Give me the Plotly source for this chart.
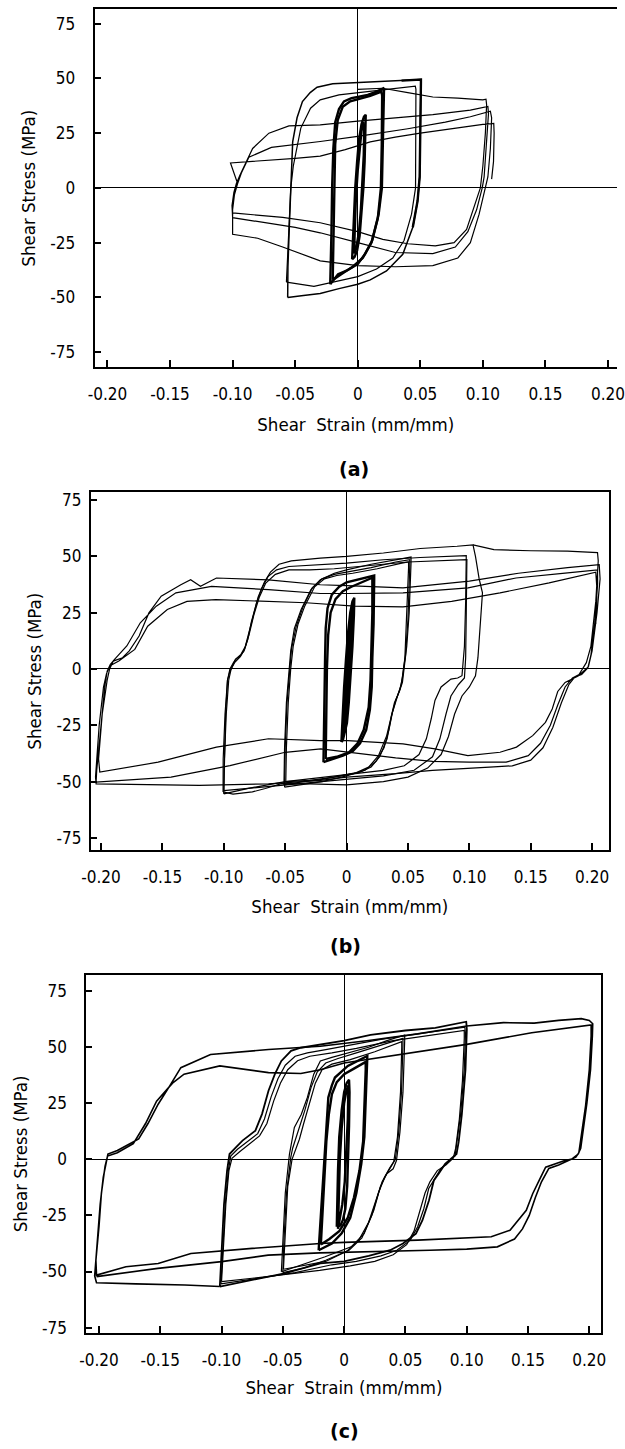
import plotly.graph_objects as go

W, H = 625, 1449
FONT = "DejaVu Sans Condensed, Liberation Sans Narrow, Arial Narrow, sans-serif"

# ---------------- tick definitions ----------------
X_TICKS = [-0.20, -0.15, -0.10, -0.05, 0, 0.05, 0.10, 0.15, 0.20]
X_TICK_LABELS = ["-0.20", "-0.15", "-0.10", "-0.05", "0", "0.05", "0.10", "0.15", "0.20"]
Y_TICKS = [75, 50, 25, 0, -25, -50, -75]
Y_TICK_LABELS = ["75", "50", "25", "0", "-25", "-50", "-75"]
X_TITLE = "Shear\u00a0 Strain (mm/mm)"
Y_TITLE = "Shear Stress (MPa)"
CAPTIONS = ["(a)", "(b)", "(c)"]

# ---------------- panel (a) data ----------------
A_TINY1_X = [-0.0045, -0.004, -0.003, -0.002, -0.0005, 0.001, 0.003, 0.005, 0.0064, 0.0062, 0.0055, 0.0045, 0.003, 0.0015, -0.0005, -0.0025, -0.0045]
A_TINY1_Y = [-32.6, -25, -12, 0, 12, 22, 29, 32.5, 33.4, 25, 12, 0, -12, -22, -28.5, -31.5, -32.6]
A_TINY2_X = [-0.003, -0.0025, -0.0015, 0.0, 0.0015, 0.003, 0.0045, 0.0052, 0.0048, 0.0038, 0.0025, 0.001, -0.001, -0.003]
A_TINY2_Y = [-30, -18, -5, 8, 18, 26, 30, 28, 15, 2, -10, -20, -27, -30]

A_L2A_X = [-0.022, -0.0215, -0.021, -0.0205, -0.0195, -0.018, -0.015, -0.011, -0.005, 0.0, 0.008, 0.015, 0.0205, 0.021, 0.0205, 0.020, 0.0193, 0.0167, 0.0115, 0.006, 0.0, -0.008, -0.0157, -0.022]
A_L2A_Y = [-44, -35, -20, 0, 18, 30, 36, 39.5, 41, 41.5, 42.5, 44, 45.5, 45, 30, 12, 0, -12, -24, -30, -34.8, -37.5, -39.4, -44]
A_L2B_X = [-0.020, -0.0195, -0.019, -0.018, -0.016, -0.012, -0.006, 0.0, 0.01, 0.019, 0.0195, 0.0192, 0.0185, 0.016, 0.011, 0.004, -0.004, -0.012, -0.020]
A_L2B_Y = [-42, -20, 0, 20, 31, 37, 39.5, 40.5, 42, 44, 42, 20, 0, -14, -25, -32, -36, -39, -42]

A_L3A_X = [-0.056, -0.0558, -0.0545, -0.0533, -0.052, -0.0485, -0.0442, -0.038, -0.0325, -0.02, 0.0, 0.02, 0.035, 0.0505, 0.0505, 0.050, 0.0495, 0.0478, 0.044, 0.036, 0.023, 0.01, 0.0, -0.015, -0.03, -0.045, -0.056]
A_L3A_Y = [-50, -36, -15, 0, 21, 32, 39.4, 43.5, 46, 47.5, 48, 48.5, 49, 49.5, 48, 25, 5, -6, -18, -30.3, -37.9, -42, -44, -46, -48.2, -49.2, -50]
A_L3B_X = [-0.057, -0.0565, -0.055, -0.0535, -0.0515, -0.0455, -0.0377, -0.030, -0.015, 0.0, 0.02, 0.046, 0.0465, 0.0465, 0.0462, 0.043, 0.037, 0.028, 0.015, 0.0, -0.02, -0.035, -0.057]
A_L3B_Y = [-43, -36.4, -15, 0, 10, 27.3, 36.4, 40.2, 42.5, 43.5, 44.5, 46.5, 45, 20, 0, -12, -24, -32, -37, -40.5, -43, -45, -43]
# bold right-hand reversal of the 0.05 loop
A_L3R_X = [0.035, 0.0505, 0.0505, 0.050, 0.0495, 0.0478, 0.044]
A_L3R_Y = [49, 49.5, 48, 25, 5, -6, -18]

A_T1_X = [0.0, 0.02, 0.04, 0.06, 0.08, 0.1, 0.1025]
A_T1_Y = [45, 45.5, 43.5, 41.5, 41, 40.2, 40.5]
A_D1_X = [0.103, 0.102, 0.1, 0.098, 0.093, 0.087, 0.077, 0.062, 0.04, 0.02, 0.0, -0.03, -0.06, -0.1]
A_D1_Y = [38, 25, 10, 0, -9, -19, -25, -26.5, -25.5, -23.5, -20, -15.9, -13.5, -11.4]
A_R1_X = [-0.1005, -0.099, -0.097, -0.094, -0.084, -0.071, -0.055, -0.03, 0.0, 0.03, 0.06, 0.09, 0.104]
A_R1_Y = [-8, -2, 2, 6, 18, 25, 28.3, 28.8, 30.5, 32, 33.5, 35.5, 37.2]
A_D2_X = [0.1045, 0.103, 0.101, 0.0995, 0.095, 0.088, 0.078, 0.06, 0.03, 0.0, -0.03, -0.05, -0.1]
A_D2_Y = [34, 20, 5, 0, -10, -20, -27, -30, -29.5, -25, -20.5, -18, -13.6]
A_R2_X = [-0.1005, -0.0985, -0.096, -0.093, -0.087, -0.069, -0.03, 0.0, 0.04, 0.07, 0.09, 0.106]
A_R2_Y = [-8, -2, 2, 6.8, 14, 18.5, 21.2, 23.5, 27, 30, 32.5, 35]
A_D3_X = [0.107, 0.106, 0.104, 0.102, 0.097, 0.09, 0.08, 0.06, 0.03, 0.0, -0.03, -0.06, -0.08, -0.1]
A_D3_Y = [32, 18, 5, 0, -12, -25, -32, -35.5, -36, -35.5, -33.3, -27, -23, -21.2]
A_R3_X = [-0.1, -0.0985, -0.096, -0.1017, -0.085, -0.07, -0.05, -0.03, -0.01, 0.01, 0.03, 0.05, 0.08, 0.1, 0.1087]
A_R3_Y = [-10, -3, 2, 11.4, 12, 12.5, 13.5, 14.5, 17.5, 21, 23.2, 25, 27.5, 29, 29.5]
A_D4_X = [0.109, 0.1085, 0.107]
A_D4_Y = [25, 12, 4]

# ---------------- panel (b) data ----------------
B_TINY_X = [-0.0042, -0.0035, -0.002, -0.0005, 0.001, 0.003, 0.0048, 0.0063, 0.006, 0.0048, 0.0033, 0.0018, 0.0003, -0.0015, -0.003, -0.0042]
B_TINY_Y = [-32.5, -22, -8, 4, 15, 25, 30, 31.6, 24, 10, -4, -15, -24, -29, -31.5, -32.5]

B_L2A_X = [-0.0188, -0.0186, -0.018, -0.0175, -0.017, -0.0155, -0.012, -0.006, 0.0, 0.008, 0.016, 0.0225, 0.0225, 0.022, 0.021, 0.0205, 0.019, 0.016, 0.011, 0.005, -0.003, -0.012, -0.0188]
B_L2A_Y = [-41.4, -30, -10, 5, 18, 27, 33, 36.5, 38.5, 39.5, 40.5, 41.5, 40, 20, 5, -8, -18, -27, -33, -36.5, -38.5, -40, -41.4]
B_L2B_X = [-0.017, -0.0165, -0.016, -0.015, -0.013, -0.009, -0.003, 0.004, 0.012, 0.021, 0.021, 0.0205, 0.0195, 0.018, 0.014, 0.009, 0.002, -0.008, -0.017]
B_L2B_Y = [-40, -20, 0, 15, 25, 31, 34.5, 36.5, 38.5, 40.5, 25, 10, -5, -17, -27, -33, -37, -39, -40]

B_L3A_X = [-0.051, -0.0505, -0.049, -0.047, -0.0455, -0.0425, -0.037, -0.029, -0.0214, -0.01, 0.0, 0.02, 0.04, 0.0525, 0.0525, 0.051, 0.049, 0.047, 0.0455, 0.043, 0.039, 0.036, 0.0327, 0.026, 0.018, 0.008, -0.005, -0.02, -0.035, -0.051]
B_L3A_Y = [-51.5, -35, -15, 0, 8, 18, 26.4, 35.2, 39.6, 42.5, 44, 46.5, 48.5, 49.7, 47, 25, 10, 0, -6, -10, -15, -22, -29.6, -38.5, -43.6, -46, -47.5, -49, -50, -51.5]
B_L3B_X = [-0.0505, -0.05, -0.0485, -0.0465, -0.0448, -0.041, -0.0355, -0.028, -0.02, -0.01, 0.0, 0.02, 0.04, 0.0515, 0.0515, 0.05, 0.048, 0.046, 0.0445, 0.0415, 0.0375, 0.0345, 0.0305, 0.024, 0.015, 0.0, -0.02, -0.0505]
B_L3B_Y = [-52.5, -35, -15, 0, 9, 19, 27.5, 36, 40, 42, 43, 45, 47.5, 48.5, 46, 22, 6, -2, -7, -12, -19, -27, -35, -41, -45, -47.5, -50, -52.5]
B_L3C_X = [-0.0495, -0.049, -0.0475, -0.0455, -0.0435, -0.0395, -0.034, -0.026, -0.018, -0.008, 0.005, 0.025, 0.045, 0.0505, 0.0505, 0.049, 0.0475, 0.0455, 0.0435, 0.040, 0.0365, 0.033, 0.027, 0.02, 0.01, -0.01, -0.03, -0.0495]
B_L3C_Y = [-50, -35, -15, 0, 10, 20, 28, 36.5, 40, 41.5, 42.5, 44.5, 47, 47.5, 45, 20, 5, -4, -9, -14, -21, -31, -39, -43.5, -46, -48, -49.5, -50]

B_L4A_X = [-0.1006, -0.1005, -0.099, -0.097, -0.095, -0.092, -0.089, -0.086, -0.0825, -0.0795, -0.076, -0.072, -0.067, -0.062, -0.055, -0.045, -0.0214, 0.0, 0.03, 0.06, 0.09, 0.103,
           0.105, 0.108, 0.1107, 0.109, 0.107, 0.105, 0.1, 0.094, 0.088, 0.083, 0.077, 0.066, 0.05, 0.03, 0.0, -0.03, -0.0531, -0.0662, -0.0767, -0.0925, -0.1006]
B_L4A_Y = [-54.6, -40, -20, -5, 0, 3, 5, 6.5, 10, 16, 24, 32, 38.5, 43, 46.5, 48, 49.2, 50, 51.5, 53.5, 54.5, 55.1,
           50, 40, 33.8, 20, 5, -3, -8, -12, -20, -30, -38, -44, -48, -50, -51.5, -51, -50.9, -53.1, -54.6, -55.6, -54.6]
B_L4B_X = [-0.1, -0.0995, -0.098, -0.096, -0.094, -0.0905, -0.087, -0.0835, -0.0805, -0.0775, -0.0735, -0.069, -0.064, -0.057, -0.047, -0.033, -0.015, 0.0, 0.03, 0.06, 0.0975,
           0.0975, 0.097, 0.096, 0.094, 0.0905, 0.085, 0.077, 0.072, 0.069, 0.065, 0.059, 0.047, 0.03, 0.0, -0.05, -0.08, -0.1]
B_L4B_Y = [-55.5, -40, -20, -5, 0, 4.3, 5.5, 8, 13, 21, 29, 36, 41, 44, 45.5, 46, 46.5, 47, 48.5, 49.5, 50.3,
           48, 30, 10, -3, -4, -4.5, -8, -14, -22, -31, -38, -43, -45, -47, -50, -53, -55.5]
B_L4C_X = [-0.1, -0.0995, -0.0985, -0.097, -0.095, -0.091, -0.0865, -0.083, -0.0795, -0.0755, -0.071, -0.066, -0.058, -0.047, -0.03, -0.01, 0.02, 0.05, 0.098,
           0.098, 0.0975, 0.097, 0.096, 0.091, 0.085, 0.081, 0.076, 0.07, 0.055, 0.03, 0.0, -0.05, -0.1]
B_L4C_Y = [-54, -40, -20, -5, -1, 3, 5.5, 9, 15, 24, 32, 38, 42, 44, 44, 44.5, 46, 47.5, 48.5,
           46, 25, 5, -4, -7, -12, -20, -31, -39, -45, -47.5, -49, -51.5, -54]

B_C_X = [0.103, 0.12, 0.15, 0.18, 0.2044]
B_C_Y = [55.1, 53, 52.5, 52.3, 51.7]
B_S1_X = [0.205, 0.203, 0.199, 0.1953, 0.1886, 0.178, 0.172, 0.1675, 0.162, 0.1516, 0.1384, 0.125, 0.0988, 0.072, 0.046, 0.001, -0.0214, -0.0636, -0.106, -0.1535, -0.201]
B_S1_Y = [48, 30, 10, 2.8, -3.1, -6, -10, -17.8, -23.7, -29.6, -34.7, -37, -38.5, -35.5, -33.3, -31.8, -31.8, -31, -34.7, -41.4, -45.8]
B_U1_X = [-0.202, -0.199, -0.195, -0.193, -0.19, -0.1825, -0.177, -0.169, -0.161, -0.151, -0.135, -0.127, -0.119, -0.106, -0.0636, -0.0214, 0.0, 0.046, 0.1, 0.14, 0.18, 0.2058]
B_U1_Y = [-40, -20, -5, 0, 3.5, 5, 8, 14.6, 24.9, 32.3, 37.4, 39.6, 36.7, 40.4, 39.6, 37.4, 37, 36, 39, 42.5, 45, 46.3]
B_S2_X = [0.2065, 0.204, 0.2, 0.197, 0.191, 0.184, 0.178, 0.172, 0.166, 0.158, 0.148, 0.13, 0.1, 0.07, 0.04, 0.01, -0.021, -0.05, -0.095, -0.143, -0.204]
B_S2_Y = [40, 25, 8, 1, -2, -4, -8, -16, -25, -33, -38.5, -41.4, -41.4, -41, -39.5, -37.5, -35.5, -37, -42.9, -48, -50.2]
B_U2_X = [-0.2035, -0.2, -0.197, -0.195, -0.1925, -0.189, -0.179, -0.168, -0.155, -0.139, -0.11, -0.0636, -0.0214, 0.0, 0.046, 0.099, 0.138, 0.178, 0.2044]
B_U2_Y = [-45, -25, -8, -1, 2, 4.3, 10.2, 20.5, 27.9, 33.8, 36.7, 35.2, 33.5, 33.5, 33.8, 36, 40.4, 42.6, 44]
B_S3_X = [0.2045, 0.2025, 0.199, 0.1965, 0.1915, 0.186, 0.181, 0.175, 0.168, 0.16, 0.15, 0.135, 0.12, 0.1, 0.07, 0.04, 0.0, -0.021, -0.0636, -0.12, -0.204]
B_S3_Y = [38, 22, 6, 0.5, -2.5, -3.5, -7, -15, -26, -35, -40.5, -43, -43.5, -44, -45, -46.5, -48, -49.5, -51, -51.7, -51]
B_U3_X = [-0.2045, -0.2015, -0.198, -0.1955, -0.193, -0.1855, -0.1725, -0.162, -0.146, -0.13, -0.1065, -0.0636, -0.033, 0.0063, 0.046, 0.0856, 0.125, 0.165, 0.203, 0.204, 0.203]
B_U3_Y = [-48, -25, -8, -2, 1.3, 3.5, 8.7, 19, 26.4, 30, 30.8, 30, 29.4, 27.9, 27.6, 30, 33.8, 38.2, 43, 35, 20]

# ---------------- panel (c) data ----------------
C_T1_X = [-0.006, -0.0058, -0.005, -0.004, -0.002, 0.0, 0.002, 0.004, 0.0044, 0.004, 0.0035, 0.0025, 0.001, -0.001, -0.003, -0.006]
C_T1_Y = [-30, -20, -5, 10, 22, 30, 34, 35.5, 30, 15, 0, -12, -22, -27, -29.5, -30]
C_T2_X = [-0.005, -0.0045, -0.0035, -0.002, 0.0, 0.002, 0.0035, 0.003, 0.002, 0.0005, -0.0015, -0.0035, -0.005]
C_T2_Y = [-31, -15, 0, 14, 25, 31, 33, 18, 4, -10, -20, -27, -31]

C_L2A_X = [-0.0208, -0.019, -0.017, -0.0155, -0.0142, -0.0129, -0.01, -0.0075, 0.003, 0.01, 0.0176, 0.0189, 0.0188, 0.018, 0.0165, 0.014, 0.01, 0.005, -0.002, -0.01, -0.0208]
C_L2A_Y = [-40.5, -25, -8, 5.4, 16, 27.6, 33, 36.5, 41.7, 43.5, 45.4, 46.1, 44, 30, 10, -2, -15, -26, -33, -37.5, -40.5]
C_L2B_X = [-0.019, -0.0175, -0.016, -0.0145, -0.0125, -0.01, -0.006, 0.0, 0.008, 0.016, 0.0176, 0.0176, 0.0168, 0.0155, 0.0125, 0.008, 0.003, -0.004, -0.012, -0.019]
C_L2B_Y = [-38, -22, -5, 8, 20, 29, 34.5, 38, 40.5, 43, 43.5, 40, 25, 8, -5, -17, -26, -32, -35.5, -38]

C_L3A_X = [-0.0512, -0.05, -0.048, -0.0446, -0.0433, -0.0406, -0.035, -0.030, -0.0248, -0.0194, -0.01, 0.0, 0.02, 0.035, 0.0494,
           0.0494, 0.048, 0.0455, 0.0427, 0.040, 0.0348, 0.0295, 0.0242, 0.0163, 0.0057, -0.0155, -0.035, -0.0512]
C_L3A_Y = [-50.1, -35, -15, 2.4, 6.9, 14.3, 20, 27.6, 38, 43.9, 45.5, 47, 50, 53, 55.5,
           53, 30, 12, -0.5, -4.2, -6.4, -12.3, -22.7, -33.1, -39, -43.4, -47, -50.1]
C_L3B_X = [-0.05, -0.049, -0.047, -0.0435, -0.042, -0.039, -0.0365, -0.032, -0.027, -0.022, -0.015, -0.005, 0.01, 0.03, 0.048,
           0.048, 0.0468, 0.0445, 0.0418, 0.0385, 0.033, 0.028, 0.0225, 0.0145, 0.004, -0.015, -0.033, -0.05]
C_L3B_Y = [-50.5, -35, -15, 1, 5, 10, 14, 22, 32, 39, 43, 45, 47.5, 51, 54,
           51, 30, 12, 0, -3, -8, -15, -25, -35, -40.5, -45, -48.5, -50.5]
C_L3C_X = [-0.0495, -0.048, -0.046, -0.0425, -0.040, -0.0365, -0.033, -0.0285, -0.0235, -0.018, -0.01, 0.005, 0.025, 0.047,
           0.047, 0.046, 0.0435, 0.0405, 0.037, 0.031, 0.026, 0.02, 0.012, 0.002, -0.015, -0.033, -0.0495]
C_L3C_Y = [-49, -32, -12, 0, 4, 9, 16, 25, 34, 40, 42.5, 44.5, 48, 52.5,
           50, 30, 10, -1, -4, -10, -18, -28, -36, -41, -45.5, -47.5, -49]

C_L4A_X = [-0.1014, -0.1, -0.098, -0.0955, -0.0935, -0.0883, -0.0829, -0.0724, -0.067, -0.0617, -0.0565, -0.0512, -0.0433, -0.0353, -0.0194, 0.0, 0.0216, 0.05, 0.0744, 0.0996,
           0.1001, 0.099, 0.096, 0.0935, 0.0917, 0.087, 0.0824, 0.0771, 0.0732, 0.0692, 0.0639, 0.0586, 0.048, 0.0375, 0.02, 0.0, -0.0194, -0.0486, -0.075, -0.1014]
C_L4A_Y = [-56.7, -40, -20, -5, 2.4, 5.4, 8.4, 12.8, 20.2, 30.6, 38, 43.9, 48.4, 49.8, 51.3, 53, 55.5, 57.5, 58.7, 61.4,
           58, 40, 20, 8, 2.4, 0, -2, -6.4, -9.4, -18.3, -27.1, -33.1, -37.5, -40.5, -43, -45.5, -46.4, -50.8, -53.8, -56.7]
C_L4B_X = [-0.1005, -0.099, -0.097, -0.0945, -0.0925, -0.087, -0.081, -0.0705, -0.065, -0.0595, -0.054, -0.048, -0.04, -0.03, -0.015, 0.0, 0.03, 0.06, 0.0985,
           0.099, 0.098, 0.095, 0.092, 0.0905, 0.085, 0.079, 0.0735, 0.069, 0.065, 0.06, 0.054, 0.043, 0.03, 0.01, -0.01, -0.04, -0.07, -0.1005]
C_L4B_Y = [-55.5, -40, -20, -5, 1.5, 4.5, 7, 11.5, 18, 28, 36, 42, 46, 47.5, 49, 50.5, 53.5, 56, 59,
           56, 40, 20, 6, 1.5, -1, -4, -9, -13, -22, -30, -36, -40.5, -43, -45.5, -47, -50.5, -53, -55.5]
C_L4C_X = [-0.1, -0.0985, -0.0965, -0.094, -0.0915, -0.085, -0.078, -0.069, -0.063, -0.0575, -0.052, -0.046, -0.038, -0.028, -0.01, 0.01, 0.04, 0.07, 0.098,
           0.098, 0.0965, 0.094, 0.091, 0.089, 0.083, 0.076, 0.07, 0.066, 0.0615, 0.057, 0.051, 0.04, 0.025, 0.005, -0.02, -0.05, -0.075, -0.1]
C_L4C_Y = [-54.5, -40, -20, -5, 0.5, 3.5, 6.5, 10.5, 16, 26, 34, 40, 44, 46, 47.5, 49.5, 53, 55.5, 57.5,
           54, 35, 18, 5, 0.5, -2.5, -5, -10, -15, -24, -32, -38, -42.5, -45.5, -47.5, -49.5, -51.5, -53, -54.5]

C_BOT_X = [-0.1014, -0.13, -0.17, -0.202]
C_BOT_Y = [-56.7, -56, -55.5, -55]
C_U1_X = [-0.2035, -0.201, -0.199, -0.1965, -0.1927, -0.185, -0.176, -0.1676, -0.16, -0.1517, -0.142, -0.1332, -0.109, -0.0617, -0.0194, 0.02, 0.06, 0.1, 0.13, 0.155, 0.175, 0.1935, 0.2, 0.2028]
C_U1_Y = [-52, -35, -20, -8, 2.4, 4, 6.5, 9.1, 16, 24.6, 33, 40.9, 46.8, 49, 50.5, 53, 56, 59.5, 61, 60.8, 62, 62.8, 62, 60.5]
C_S1_X = [0.2025, 0.201, 0.198, 0.195, 0.193, 0.1909, 0.186, 0.18, 0.172, 0.1644, 0.1591, 0.1538, 0.1486, 0.1419, 0.1353, 0.12, 0.1, 0.06, 0.0, -0.0194, -0.075, -0.125, -0.1517, -0.178, -0.202]
C_S1_Y = [55, 40, 25, 12, 5, 2.4, 0.2, -0.5, -2, -3.5, -9.4, -15.3, -22.7, -27.1, -31.6, -34.5, -35, -36, -37, -37.5, -39.7, -42, -46.4, -47.9, -51.6]
C_U2_X = [-0.2025, -0.2, -0.198, -0.195, -0.193, -0.185, -0.172, -0.162, -0.153, -0.14, -0.1306, -0.1014, -0.0617, -0.0353, -0.0194, 0.0, 0.05, 0.1, 0.153, 0.2, 0.2015]
C_U2_Y = [-45, -30, -15, -3, 1.5, 3, 7, 16, 26, 34, 38, 41.7, 38.7, 38.3, 40, 43, 47, 51.3, 56.5, 60, 60]
C_S2_X = [0.2015, 0.2, 0.197, 0.1935, 0.1915, 0.189, 0.183, 0.175, 0.167, 0.161, 0.156, 0.151, 0.1455, 0.139, 0.125, 0.1, 0.07, 0.03, 0.0, -0.02, -0.062, -0.1, -0.152, -0.202]
C_S2_Y = [55, 40, 24, 10, 3, 1, -0.5, -2.5, -4, -10, -17, -25, -31, -35.5, -39, -40, -40.5, -41, -41.5, -41.7, -42.7, -45.6, -48.6, -52.3]

# ---------------- figure ----------------
fig = go.Figure()

PANELS = {
    "a": dict(l=88, r=625, t=7, b=367, xr=[-0.2103, 0.2072], yr=[-82, 81.7], xax="x", yax="y"),
    "b": dict(l=84, r=616.7, t=492, b=852, xr=[-0.2084, 0.2137], yr=[-80.6, 78.6], xax="x2", yax="y2"),
    "c": dict(l=79.5, r=609, t=976.7, b=1336.7, xr=[-0.2103, 0.2099], yr=[-77.5, 82.4], xax="x3", yax="y3"),
}

THIN = 1.2
BOLD = 2.4


def add_curve(panel, xs, ys, width=THIN, fill=False):
    p = PANELS[panel]
    fig.add_trace(go.Scatter(
        x=xs, y=ys, mode="lines",
        line=dict(color="black", width=width),
        fill="toself" if fill else None,
        fillcolor="black" if fill else None,
        xaxis=p["xax"], yaxis=p["yax"],
        showlegend=False, hoverinfo="skip"))


def cat(*parts):
    out = []
    for p in parts:
        out.extend(p)
    return out

# panel a
add_curve("a", A_TINY1_X, A_TINY1_Y, BOLD)
add_curve("a", A_TINY2_X, A_TINY2_Y, BOLD)
add_curve("a", A_L2A_X, A_L2A_Y, BOLD)
add_curve("a", A_L2B_X, A_L2B_Y, BOLD)
add_curve("a", A_L3A_X, A_L3A_Y, 1.5)
add_curve("a", A_L3R_X, A_L3R_Y, BOLD)
add_curve("a", A_L3B_X, A_L3B_Y, THIN)
add_curve("a", cat(A_T1_X, A_D1_X, A_R1_X, A_D2_X, A_R2_X, A_D3_X, A_R3_X, A_D4_X),
          cat(A_T1_Y, A_D1_Y, A_R1_Y, A_D2_Y, A_R2_Y, A_D3_Y, A_R3_Y, A_D4_Y), THIN)

# panel b
add_curve("b", B_TINY_X, B_TINY_Y, BOLD, fill=True)
add_curve("b", B_L2A_X, B_L2A_Y, BOLD)
add_curve("b", B_L2B_X, B_L2B_Y, BOLD)
add_curve("b", B_L3A_X, B_L3A_Y, THIN)
add_curve("b", B_L3B_X, B_L3B_Y, THIN)
add_curve("b", B_L3C_X, B_L3C_Y, THIN)
add_curve("b", B_L4A_X, B_L4A_Y, THIN)
add_curve("b", B_L4B_X, B_L4B_Y, THIN)
add_curve("b", B_L4C_X, B_L4C_Y, THIN)
add_curve("b", cat(B_C_X, B_S1_X, B_U1_X, B_S2_X, B_U2_X, B_S3_X, B_U3_X),
          cat(B_C_Y, B_S1_Y, B_U1_Y, B_S2_Y, B_U2_Y, B_S3_Y, B_U3_Y), THIN)

# panel c
add_curve("c", C_T1_X, C_T1_Y, BOLD)
add_curve("c", C_T2_X, C_T2_Y, BOLD)
add_curve("c", C_L2A_X, C_L2A_Y, BOLD)
add_curve("c", C_L2B_X, C_L2B_Y, BOLD)
add_curve("c", C_L3A_X, C_L3A_Y, THIN)
add_curve("c", C_L3B_X, C_L3B_Y, THIN)
add_curve("c", C_L3C_X, C_L3C_Y, THIN)
add_curve("c", C_L4A_X, C_L4A_Y, 1.8)
add_curve("c", C_L4B_X, C_L4B_Y, THIN)
add_curve("c", C_L4C_X, C_L4C_Y, THIN)
add_curve("c", cat(C_BOT_X, C_U1_X, C_S1_X, C_U2_X, C_S2_X),
          cat(C_BOT_Y, C_U1_Y, C_S1_Y, C_U2_Y, C_S2_Y), 1.6)

TICK_FONT = dict(family=FONT, size=17, color="black")
TITLE_FONT = dict(family=FONT, size=18.5, color="black")

layout = dict(
    width=W, height=H, margin=dict(l=0, r=0, t=0, b=0),
    paper_bgcolor="white", plot_bgcolor="white", showlegend=False,
)

Y_STANDOFF = {"a": 14, "b": 4, "c": 14}
Y_TITLE_STANDOFF = {"a": 10, "b": 10, "c": 10}
X_TITLE_STANDOFF = {"a": 15, "b": 14, "c": 12}
XLINE_W = {"a": 2.4, "b": 2.0, "c": 2.0}

for key, p in PANELS.items():
    xname = "xaxis" if p["xax"] == "x" else "xaxis" + p["xax"][1:]
    yname = "yaxis" if p["yax"] == "y" else "yaxis" + p["yax"][1:]
    layout[xname] = dict(
        domain=[p["l"] / W, p["r"] / W], range=p["xr"], anchor=p["yax"],
        tickmode="array", tickvals=X_TICKS, ticktext=X_TICK_LABELS,
        ticks="inside", ticklen=7, tickwidth=1.5, tickcolor="black",
        showline=True, linecolor="black", linewidth=XLINE_W[key], mirror=True,
        showgrid=False, zeroline=True, zerolinecolor="black", zerolinewidth=1.4,
        tickfont=TICK_FONT, ticklabelstandoff=10, ticklabeloverflow="allow",
        title=dict(text=X_TITLE, font=TITLE_FONT, standoff=X_TITLE_STANDOFF[key]),
    )
    layout[yname] = dict(
        domain=[1 - p["b"] / H, 1 - p["t"] / H], range=p["yr"], anchor=p["xax"],
        tickmode="array", tickvals=Y_TICKS, ticktext=Y_TICK_LABELS,
        ticks="inside", ticklen=6, tickwidth=1.5, tickcolor="black",
        showline=True, linecolor="black", linewidth=1.8, mirror=(key != "a"),
        showgrid=False, zeroline=True, zerolinecolor="black", zerolinewidth=1.4,
        tickfont=TICK_FONT, ticklabelstandoff=Y_STANDOFF[key], ticklabeloverflow="allow",
        title=dict(text=Y_TITLE, font=TITLE_FONT, standoff=Y_TITLE_STANDOFF[key]),
    )

CAP_POS = [(354.5, 469), (346, 948), (345, 1435)]
layout["annotations"] = [
    dict(text="<b>%s</b>" % c, x=px / W, y=1 - py / H, xref="paper", yref="paper",
         showarrow=False, xanchor="center", yanchor="middle",
         font=dict(family="DejaVu Sans, Liberation Sans, sans-serif", size=19, color="black"))
    for c, (px, py) in zip(CAPTIONS, CAP_POS)
]

fig.update_layout(**layout)
fig.write_html("out.html")
